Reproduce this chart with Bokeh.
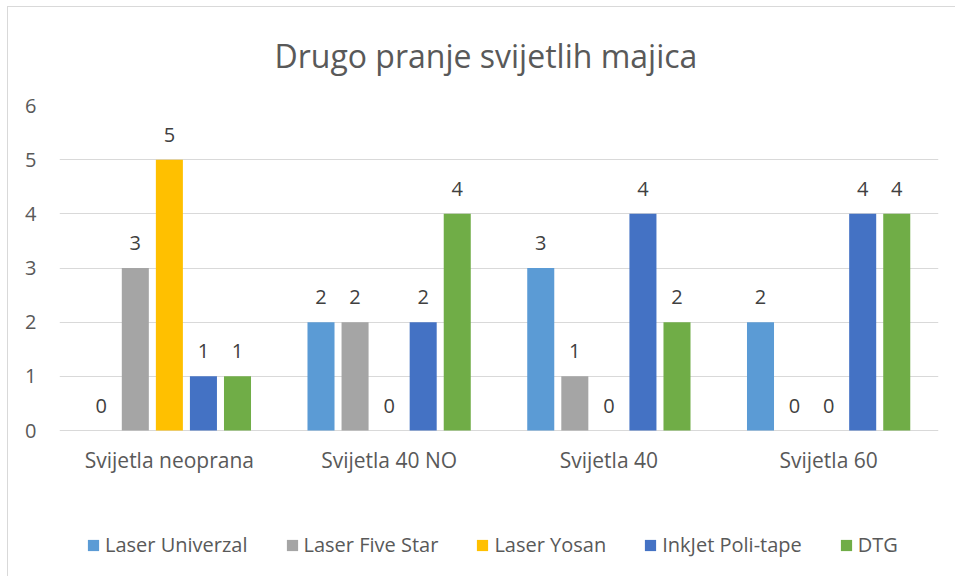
from bokeh.plotting import figure
from bokeh.models import ColumnDataSource, Range1d, Legend, LegendItem, FixedTicker
from bokeh.transform import dodge
from bokeh.core.properties import value
from bokeh.embed import file_html
from bokeh.resources import INLINE

categories = ["Svijetla neoprana", "Svijetla 40 NO", "Svijetla 40", "Svijetla 60"]
series_names = ["Laser Univerzal", "Laser Five Star", "Laser Yosan", "InkJet Poli-tape", "DTG"]
laser_univerzal = [0, 2, 3, 2]
laser_five_star = [3, 2, 1, 0]
laser_yosan = [5, 0, 0, 0]
inkjet_poli_tape = [1, 2, 4, 4]
dtg = [1, 4, 2, 4]
colors = ["#5B9BD5", "#A5A5A5", "#FFC000", "#4472C4", "#70AD47"]
y_ticks = [0, 1, 2, 3, 4, 5, 6]

FONT = "Open Sans"
TXT = "#595959"

p = figure(x_range=categories, y_range=Range1d(-2.64, 6),
           width=948, height=570, output_backend="svg", toolbar_location=None,
           min_border_left=51, min_border_right=18, min_border_top=0, min_border_bottom=4)
p.styles = {"margin-left": "7px", "margin-top": "6px",
            "border-left": "1px solid #D9D9D9", "border-top": "1px solid #D9D9D9"}

p.title.text = "Drugo pranje svijetlih majica"
p.title.align = "left"
p.title.offset = 215
p.title.vertical_align = "top"
p.title.text_font = FONT
p.title.text_font_size = "32px"
p.title.text_font_style = "normal"
p.title.text_color = TXT
p.title.standoff = 53

p.outline_line_color = None
p.xgrid.grid_line_color = None
p.ygrid.grid_line_color = "#D9D9D9"
p.ygrid.grid_line_width = 1
p.yaxis.ticker = FixedTicker(ticks=y_ticks)
for ax in (p.xaxis, p.yaxis):
    ax.axis_line_color = None
    ax.major_tick_line_color = None
    ax.minor_tick_line_color = None
    ax.major_label_text_font = FONT
    ax.major_label_text_color = TXT
p.yaxis.major_label_text_font_size = "20px"
p.xaxis.major_label_text_font_size = "21px"
p.yaxis.major_label_standoff = 17
p.xaxis.major_label_standoff = 9
p.xaxis.fixed_location = 0

all_series = [laser_univerzal, laser_five_star, laser_yosan, inkjet_poli_tape, dtg]
offsets = [-0.31, -0.155, 0.0, 0.155, 0.31]
items = []
for name, vals, col, off in zip(series_names, all_series, colors, offsets):
    src = ColumnDataSource(dict(x=categories, y=vals, label=[str(v) for v in vals]))
    r = p.vbar(x=dodge("x", off, range=p.x_range), top="y", width=0.123, source=src,
               fill_color=col, line_color=None)
    p.text(x=dodge("x", off, range=p.x_range), y="y", text="label", source=src,
           text_align="center", text_baseline="alphabetic", y_offset=-25,
           text_font=value(FONT), text_font_size="20px", text_color="#404040")
    items.append(LegendItem(label=name, renderers=[r]))

legend = Legend(items=items, orientation="horizontal", location=(27, 15),
                border_line_color=None, background_fill_alpha=0,
                label_text_font=FONT, label_text_font_size="20px", label_text_color=TXT,
                glyph_width=14, glyph_height=14, label_standoff=5, spacing=37,
                margin=0, padding=0)
p.add_layout(legend)

open("out.html", "w").write(file_html(p, INLINE))
